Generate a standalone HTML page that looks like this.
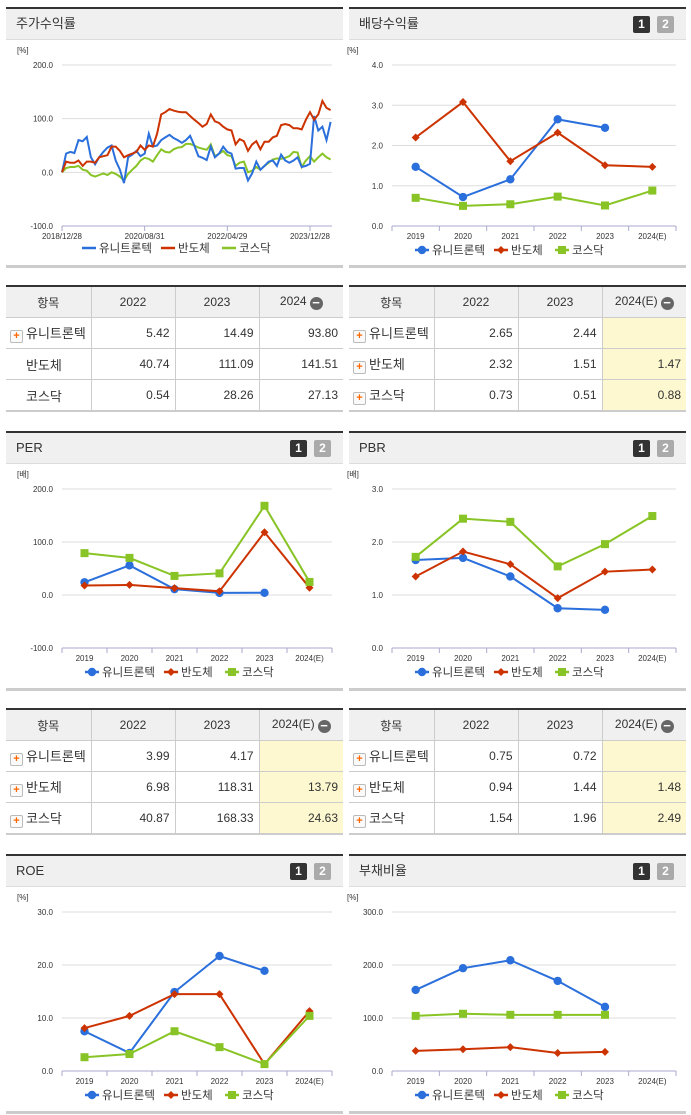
<!DOCTYPE html>
<html><head><meta charset="utf-8">
<style>
body{margin:0;width:691px;height:1115px;background:#fff;position:relative;overflow:hidden;font-family:"Liberation Sans","Noto Sans CJK KR",sans-serif;color:#333}
.hdr{position:absolute;height:30px;background:#f0f0f0;border-top:2px solid #333;border-bottom:1px solid #ddd;font-size:13px;line-height:30px;padding-left:10px;box-sizing:content-box}
.btn{position:absolute;top:7px;width:17px;height:17px;font-size:12px;font-weight:bold;color:#fff;text-align:center;line-height:17px;border-radius:2px}
.b1{background:#333;right:36px}.b2{background:#aaa;right:12px}
.bot{position:absolute;height:3px;background:#ccc}
table{position:absolute;border-collapse:collapse;table-layout:fixed;font-size:12px;border-top:2px solid #333;border-bottom:2px solid #ccc}
td,th{border:1px solid #ccc;height:30px;padding:0 5px;font-weight:normal;white-space:nowrap;overflow:hidden}
th{background:#f0f0f0;text-align:center}
td{text-align:right}
td.n{text-align:left;font-size:13px;padding-left:4px}
tr>*:first-child{border-left:none}tr>*:last-child{border-right:none}
.y{background:#fdf8cf}
.pl{display:inline-block;width:11px;height:11px;border:1px solid #bbb;border-radius:2px;background:#fafafa;color:#f60;font-size:11px;line-height:10px;text-align:center;font-weight:bold;margin-right:3px;vertical-align:-1px}
.mi{display:inline-block;width:13px;height:13px;border-radius:50%;background:#666;color:#fff;line-height:12px;font-size:13px;font-weight:bold;vertical-align:-2px;margin-left:3px}
</style></head><body>
<svg id="svg" width="691" height="1115" style="position:absolute;left:0;top:0"></svg>
<script>
const NS='http://www.w3.org/2000/svg';
const svg=document.getElementById('svg');
const years=['2019','2020','2021','2022','2023','2024(E)'];
const names=['유니트론텍','반도체','코스닥'];
const colors=['#2a6fdb','#cc3300','#88c425'];
const priceTicks=['2018/12/28','2020/08/31','2022/04/29','2023/12/28'];
const priceTickIdx=[0,20,40,60];
const priceA=[0,35,38,36,60,58,66,28,15,28,38,46,50,22,5,-20,28,33,40,30,35,72,48,50,60,65,70,64,60,55,60,68,50,30,27,23,48,28,35,48,38,35,7,8,8,-15,-2,20,5,12,20,22,12,33,22,18,22,28,10,12,16,105,78,85,60,94];
const priceB=[0,20,18,18,22,12,20,20,18,28,30,32,48,48,40,28,32,35,38,50,42,50,48,72,108,112,118,115,113,112,112,105,98,92,85,90,108,95,92,85,80,78,52,62,58,40,52,58,43,57,57,65,68,88,90,88,82,82,80,98,112,98,108,133,120,116];
const priceC=[0,8,10,10,12,5,3,-5,-8,-5,-2,-5,0,-3,-8,-15,-3,5,12,22,27,25,20,32,43,38,37,43,46,47,53,53,50,46,44,42,52,30,35,40,32,30,12,18,20,0,3,10,5,12,18,24,26,25,27,30,38,37,10,22,30,20,28,35,28,24];
const divA=[1.47,0.72,1.16,2.65,2.44,null];
const divB=[2.20,3.08,1.61,2.32,1.51,1.47];
const divC=[0.70,0.50,0.54,0.73,0.51,0.88];
const perA=[24,56,11,3.99,4.17,null];
const perB=[18,19,13,6.98,118.31,13.79];
const perC=[79,70,36,40.87,168.33,24.63];
const pbrA=[1.66,1.70,1.35,0.75,0.72,null];
const pbrB=[1.35,1.82,1.58,0.94,1.44,1.48];
const pbrC=[1.72,2.44,2.38,1.54,1.96,2.49];
const roeA=[7.5,3.4,14.9,21.7,18.9,null];
const roeB=[8.1,10.4,14.5,14.5,1.3,11.3];
const roeC=[2.6,3.2,7.5,4.5,1.3,10.4];
const debtA=[153,194,209,170,121,null];
const debtB=[38,41,45,34,36,null];
const debtC=[104,108,106,106,106,null];

function mk(tag,at,txt){const e=document.createElementNS(NS,tag);for(const k in at)e.setAttribute(k,at[k]);if(txt!=null)e.textContent=txt;svg.appendChild(e);return e;}
function frame(L,R,top,bot,min,max,step,unit){
  const ys=v=>bot-(v-min)/(max-min)*(bot-top);
  for(let v=min;v<=max+1e-9;v+=step){const g=mk('line',{x1:L,x2:R,y1:ys(v),y2:ys(v),stroke:'#ddd','stroke-width':1});
    
    const t=mk('text',{x:L-9,y:ys(v)+3,'text-anchor':'end','font-size':8,fill:'#333'},v.toFixed(1));
    }
  const u=mk('text',{x:L-45,y:top-12,'font-size':8,fill:'#333'},unit);
  
  const ax=mk('line',{x1:L,x2:R,y1:bot,y2:bot,stroke:'#aac','stroke-width':1});
  
  return ys;
}
function legend(x0,y,markers){
  const w=[79,61,60];let x=x0;
  for(let i=0;i<3;i++){
    const l=mk('line',{x1:x,x2:x+14,y1:y,y2:y,stroke:colors[i],'stroke-width':2.5});
    
    if(markers)marker(x+7,y,i);
    const t=mk('text',{x:x+17,y:y+4,'font-size':11.5,fill:'#333'},names[i]);
    
    x+=w[i];
  }
}
function marker(x,y,i){
  let e;
  if(i==0)e=mk('circle',{cx:x,cy:y,r:4.2,fill:colors[0]});
  else if(i==1)e=mk('path',{d:`M${x} ${y-4}L${x+4} ${y}L${x} ${y+4}L${x-4} ${y}Z`,fill:colors[1]});
  else e=mk('rect',{x:x-4,y:y-4,width:8,height:8,fill:colors[2]});
  
}
function catChart(L,R,top,bot,min,max,step,unit,series){
  const ys=frame(L,R,top,bot,min,max,step,unit);
  const band=(R-L)/years.length;const xs=i=>L+band*(i+0.5);
  for(let i=0;i<=years.length;i++){const tk=mk('line',{x1:L+band*i,x2:L+band*i,y1:bot,y2:bot+5,stroke:'#aac'});
    }
  years.forEach((y,i)=>{const t=mk('text',{x:xs(i),y:bot+13,'text-anchor':'middle','font-size':8,fill:'#333'},y);
    });
  series.forEach((s,si)=>{
    let d='';let pen=false;
    s.forEach((v,i)=>{if(v==null){pen=false;return;}d+=(pen?'L':'M')+xs(i)+' '+ys(v);pen=true;});
    const p=mk('path',{d:d,fill:'none',stroke:colors[si],'stroke-width':2});
    
    s.forEach((v,i)=>{if(v!=null)marker(xs(i),ys(v),si);});
  });
  legend(L+23,bot+24,true);
}
(function(){
  const L=62,R=332,top=65,bot=226;
  const ys=frame(L,R,top,bot,-100,200,100,'[%]');
  const n=priceA.length;const xs=i=>L+(R-L)*i/(n-1)*0.995;
  priceTickIdx.forEach((ix,k)=>{const tk=mk('line',{x1:xs(ix),x2:xs(ix),y1:bot,y2:bot+5,stroke:'#aac'});
    
    const t=mk('text',{x:xs(ix),y:bot+13,'text-anchor':'middle','font-size':8,fill:'#333'},priceTicks[k]);
    });
  [priceC,priceA,priceB].forEach((s,k)=>{const si=[2,0,1][k];
    const p=mk('path',{d:s.map((v,i)=>(i?'L':'M')+xs(i).toFixed(1)+' '+ys(v).toFixed(1)).join(''),fill:'none',stroke:colors[si],'stroke-width':2});
    });
  legend(82,bot+22,false);
})();
catChart(392,676,65,226,0,4,1,'[%]',[divA,divB,divC]);
catChart(62,332,489,648,-100,200,100,'[배]',[perA,perB,perC]);
catChart(392,676,489,648,0,3,1,'[배]',[pbrA,pbrB,pbrC]);
catChart(62,332,912,1071,0,30,10,'[%]',[roeA,roeB,roeC]);
catChart(392,676,912,1071,0,300,100,'[%]',[debtA,debtB,debtC]);
</script>

<div class="hdr" style="left:6px;top:7px;width:327px">주가수익률</div>
<div class="bot" style="left:6px;top:265px;width:337px"></div>
<div class="hdr" style="left:349px;top:7px;width:327px">배당수익률<span class="btn b1">1</span><span class="btn b2">2</span></div>
<div class="bot" style="left:349px;top:265px;width:337px"></div>

<div class="hdr" style="left:6px;top:431px;width:327px">PER<span class="btn b1">1</span><span class="btn b2">2</span></div>
<div class="bot" style="left:6px;top:688px;width:337px"></div>
<div class="hdr" style="left:349px;top:431px;width:327px">PBR<span class="btn b1">1</span><span class="btn b2">2</span></div>
<div class="bot" style="left:349px;top:688px;width:337px"></div>

<div class="hdr" style="left:6px;top:854px;width:327px">ROE<span class="btn b1">1</span><span class="btn b2">2</span></div>
<div class="bot" style="left:6px;top:1111px;width:337px"></div>
<div class="hdr" style="left:349px;top:854px;width:327px">부채비율<span class="btn b1">1</span><span class="btn b2">2</span></div>
<div class="bot" style="left:349px;top:1111px;width:337px"></div>

<table style="left:6px;top:285px;width:337px">
<colgroup><col style="width:85px"><col style="width:84px"><col style="width:84px"><col style="width:84px"></colgroup>
<tr><th>항목</th><th>2022</th><th>2023</th><th>2024<span class="mi">−</span></th></tr>
<tr><td class="n"><span class="pl">+</span>유니트론텍</td><td>5.42</td><td>14.49</td><td>93.80</td></tr>
<tr><td class="n" style="padding-left:20px">반도체</td><td>40.74</td><td>111.09</td><td>141.51</td></tr>
<tr><td class="n" style="padding-left:20px">코스닥</td><td>0.54</td><td>28.26</td><td>27.13</td></tr>
</table>
<table style="left:349px;top:285px;width:337px">
<colgroup><col style="width:85px"><col style="width:84px"><col style="width:84px"><col style="width:84px"></colgroup>
<tr><th>항목</th><th>2022</th><th>2023</th><th>2024(E)<span class="mi">−</span></th></tr>
<tr><td class="n"><span class="pl">+</span>유니트론텍</td><td>2.65</td><td>2.44</td><td class="y"></td></tr>
<tr><td class="n"><span class="pl">+</span>반도체</td><td>2.32</td><td>1.51</td><td class="y">1.47</td></tr>
<tr><td class="n"><span class="pl">+</span>코스닥</td><td>0.73</td><td>0.51</td><td class="y">0.88</td></tr>
</table>
<table style="left:6px;top:708px;width:337px">
<colgroup><col style="width:85px"><col style="width:84px"><col style="width:84px"><col style="width:84px"></colgroup>
<tr><th>항목</th><th>2022</th><th>2023</th><th>2024(E)<span class="mi">−</span></th></tr>
<tr><td class="n"><span class="pl">+</span>유니트론텍</td><td>3.99</td><td>4.17</td><td class="y"></td></tr>
<tr><td class="n"><span class="pl">+</span>반도체</td><td>6.98</td><td>118.31</td><td class="y">13.79</td></tr>
<tr><td class="n"><span class="pl">+</span>코스닥</td><td>40.87</td><td>168.33</td><td class="y">24.63</td></tr>
</table>
<table style="left:349px;top:708px;width:337px">
<colgroup><col style="width:85px"><col style="width:84px"><col style="width:84px"><col style="width:84px"></colgroup>
<tr><th>항목</th><th>2022</th><th>2023</th><th>2024(E)<span class="mi">−</span></th></tr>
<tr><td class="n"><span class="pl">+</span>유니트론텍</td><td>0.75</td><td>0.72</td><td class="y"></td></tr>
<tr><td class="n"><span class="pl">+</span>반도체</td><td>0.94</td><td>1.44</td><td class="y">1.48</td></tr>
<tr><td class="n"><span class="pl">+</span>코스닥</td><td>1.54</td><td>1.96</td><td class="y">2.49</td></tr>
</table>
</body></html>
